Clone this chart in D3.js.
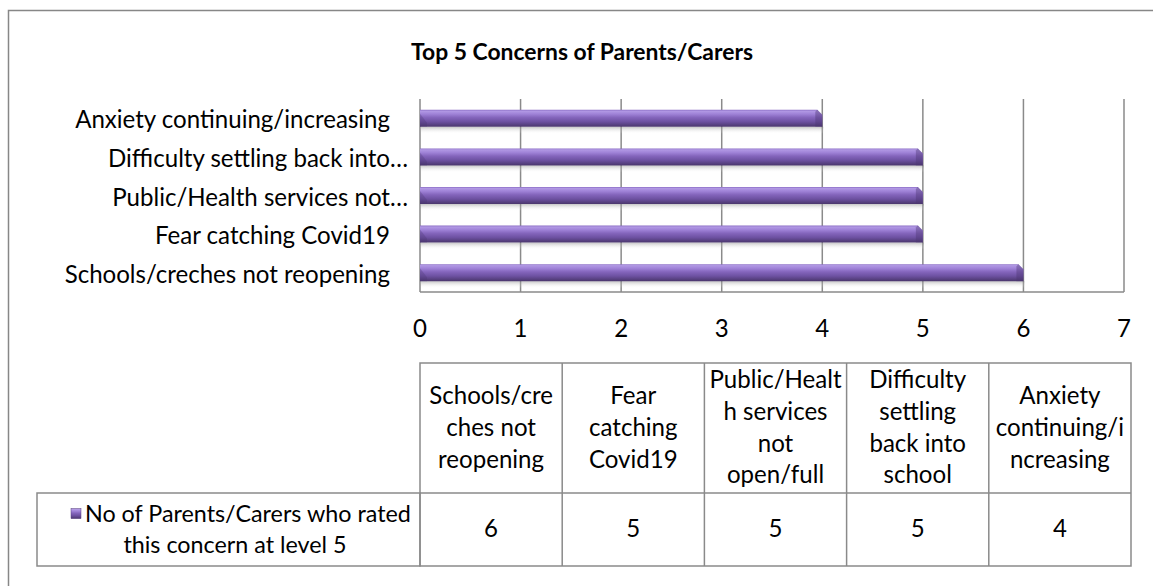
<!DOCTYPE html>
<html>
<head>
<meta charset="utf-8">
<script src="https://cdn.jsdelivr.net/npm/d3@7"></script>
<style>
  body { margin: 0; background: #fff; }
  svg { display: block; }
  text { font-family: Lato, "Open Sans", sans-serif; fill: #000; }
</style>
</head>
<body>
<svg id="chart" width="1153" height="586"></svg>
<script>
// data
const title = "Top 5 Concerns of Parents/Carers";
const categories = ["Schools/creches not reopening", "Fear catching Covid19",
  "Public/Health services not open/full", "Difficulty settling back into school",
  "Anxiety continuing/increasing"];
const axisLabels = ["Schools/creches not reopening", "Fear catching Covid19",
  "Public/Health services not…", "Difficulty settling back into…",
  "Anxiety continuing/increasing"];
const values = [6, 5, 5, 5, 4];
const xTicks = [0, 1, 2, 3, 4, 5, 6, 7];
const headerLines = [["Schools/cre", "ches not", "reopening"], ["Fear", "catching", "Covid19"],
  ["Public/Healt", "h services", "not", "open/full"], ["Difficulty", "settling", "back into", "school"],
  ["Anxiety", "continuing/i", "ncreasing"]];
const legendLines = ["No of Parents/Carers who rated", "this concern at level 5"];

const svg = d3.select("#chart");
const W = 1153, H = 586;

// font sizes fitted so Lato takes the same width as the original Calibri
function fit(txt, weight, target) {
  let t = svg.append("text").attr("font-size", 100).attr("font-weight", weight).text(txt);
  let w = t.node().getComputedTextLength();
  t.remove();
  return 100 * target / w;
}
const fs = fit("Anxiety continuing/increasing", "normal", 315);
const fsLeg = fit(legendLines[0], "normal", 326);
const fsTitle = fit(title, "bold", 342);
const lineH = 31.7;

const defs = svg.append("defs");
let g1 = defs.append("linearGradient").attr("id", "barGrad").attr("x1", 0).attr("y1", 0).attr("x2", 0).attr("y2", 1);
[[0, "#8a6cc4"], [0.08, "#b198e4"], [0.25, "#9f82d7"], [0.45, "#8465bc"], [0.7, "#6d51a1"], [1, "#4a366c"]]
  .forEach(s => g1.append("stop").attr("offset", s[0]).attr("stop-color", s[1]));
let g2 = defs.append("linearGradient").attr("id", "shadowGrad").attr("x1", 0).attr("y1", 0).attr("x2", 0).attr("y2", 1);
g2.append("stop").attr("offset", 0).attr("stop-color", "#8c8c8c").attr("stop-opacity", 0.5);
g2.append("stop").attr("offset", 1).attr("stop-color", "#ffffff").attr("stop-opacity", 0);

svg.append("rect").attr("width", W).attr("height", H).attr("fill", "#fff");
// outer chart border, runs off the right and bottom edge
svg.append("rect").attr("x", 8.5).attr("y", 10.5).attr("width", 1300).attr("height", 700)
  .attr("fill", "none").attr("stroke", "#878787").attr("stroke-width", 1.5);

svg.append("text").attr("x", 582).attr("y", 60).attr("text-anchor", "middle")
  .attr("font-weight", "bold").attr("font-size", fsTitle).text(title);

// plot
const plot = { left: 420, right: 1124, top: 99, bottom: 292 };
const x = d3.scaleLinear().domain([0, 7]).range([plot.left, plot.right]);
const y = d3.scaleBand().domain(categories.slice().reverse()).range([plot.top, plot.bottom])
  .paddingInner(0.56).paddingOuter(0.28);

svg.append("g").selectAll("line").data(xTicks).join("line")
  .attr("x1", d => x(d)).attr("x2", d => x(d))
  .attr("y1", plot.top).attr("y2", plot.bottom)
  .attr("stroke", "#8a8a8a").attr("stroke-width", 1.5);
svg.append("line").attr("x1", plot.left).attr("x2", plot.right)
  .attr("y1", plot.bottom).attr("y2", plot.bottom)
  .attr("stroke", "#8a8a8a").attr("stroke-width", 1.5);

svg.append("g").selectAll("text").data(xTicks).join("text")
  .attr("x", d => x(d)).attr("y", 337).attr("text-anchor", "middle")
  .attr("font-size", fs).text(d => d);

const lab = svg.append("g").selectAll("text").data(categories).join("text")
  .attr("x", 390).attr("y", d => y(d) + y.bandwidth() / 2 + 10)
  .attr("text-anchor", "end").attr("font-size", fs);
lab.each(function (d, i) {
  let s = axisLabels[i];
  let t = d3.select(this);
  if (s.endsWith("…")) {
    t.text(s.slice(0, -1));
    t.append("tspan").text("…");
    // let the ellipsis hang past the right edge like the original
    let ew = t.select("tspan").node().getComputedTextLength();
    t.attr("x", 390 + ew);
  } else {
    t.text(s);
  }
});

const bars = svg.append("g").selectAll("g").data(categories).join("g");
bars.append("rect")
  .attr("x", plot.left + 1).attr("y", d => y(d) + y.bandwidth())
  .attr("width", (d, i) => x(values[i]) - plot.left).attr("height", 7)
  .attr("fill", "url(#shadowGrad)");
bars.append("path")
  .attr("d", (d, i) => {
    let x0 = plot.left, x1 = x(values[i]), y0 = y(d), y1 = y(d) + y.bandwidth();
    return `M${x0},${y0}L${x1 - 5},${y0}L${x1},${y0 + 5}L${x1},${y1}L${x0},${y1}Z`;
  })
  .attr("fill", "url(#barGrad)");
bars.append("path")
  .attr("d", (d, i) => {
    let x1 = x(values[i]), y0 = y(d), y1 = y(d) + y.bandwidth();
    return `M${x1 - 7},${y0 + 2}L${x1 - 5},${y0}L${x1},${y0 + 5}L${x1},${y1}L${x1 - 7},${y1}Z`;
  })
  .attr("fill", "#4a3570").attr("opacity", 0.4);
bars.append("path")
  .attr("d", d => {
    let x0 = plot.left, y0 = y(d), y1 = y(d) + y.bandwidth();
    return `M${x0},${y0 + 4}L${x0 + 7},${y1 - 4}L${x0 + 7},${y1}L${x0},${y1}Z`;
  })
  .attr("fill", "#4a3570").attr("opacity", 0.3);

// data table
const tbl = { left: 420, right: 1131, top: 363, mid: 493, bottom: 566, legLeft: 37 };
const col = d3.scaleBand().domain(categories).range([tbl.left, tbl.right]);
const stroke = "#8a8a8a";
const cells = svg.append("g");
cells.append("rect").attr("x", tbl.left).attr("y", tbl.top)
  .attr("width", tbl.right - tbl.left).attr("height", tbl.bottom - tbl.top)
  .attr("fill", "none").attr("stroke", stroke).attr("stroke-width", 1.5);
cells.append("rect").attr("x", tbl.legLeft).attr("y", tbl.mid)
  .attr("width", tbl.left - tbl.legLeft).attr("height", tbl.bottom - tbl.mid)
  .attr("fill", "none").attr("stroke", stroke).attr("stroke-width", 1.5);
cells.append("line").attr("x1", tbl.left).attr("x2", tbl.right)
  .attr("y1", tbl.mid).attr("y2", tbl.mid).attr("stroke", stroke).attr("stroke-width", 1.5);
cells.selectAll(".vline").data(categories.slice(1)).join("line")
  .attr("x1", d => col(d)).attr("x2", d => col(d))
  .attr("y1", tbl.top).attr("y2", tbl.bottom).attr("stroke", stroke).attr("stroke-width", 1.5);

const hc = (tbl.top + tbl.mid) / 2;
categories.forEach((c, i) => {
  let lines = headerLines[i];
  let cx = col(c) + col.bandwidth() / 2;
  let t = cells.append("text").attr("text-anchor", "middle").attr("font-size", fs);
  lines.forEach((l, k) => {
    t.append("tspan").attr("x", cx)
      .attr("y", hc + (k - (lines.length - 1) / 2) * lineH + fs * 0.33).text(l);
  });
});

const vc = (tbl.mid + tbl.bottom) / 2;
cells.selectAll(".val").data(values).join("text")
  .attr("x", (d, i) => col(categories[i]) + col.bandwidth() / 2)
  .attr("y", vc + fs * 0.33).attr("text-anchor", "middle").attr("font-size", fs)
  .text(d => d);

// legend cell: marker + two lines
const l1y = vc - lineH / 2 + fs * 0.33, l2y = vc + lineH / 2 + fs * 0.33;
cells.append("rect").attr("x", 71).attr("y", vc - lineH / 2 - 5).attr("width", 10).attr("height", 10)
  .attr("fill", "url(#barGrad)").attr("stroke", "#5a4282").attr("stroke-width", 0.5);
cells.append("text").attr("x", 85).attr("y", l1y).attr("font-size", fsLeg).text(legendLines[0]);
cells.append("text").attr("x", 235).attr("y", l2y).attr("text-anchor", "middle")
  .attr("font-size", fsLeg).text(legendLines[1]);
</script>
</body>
</html>
